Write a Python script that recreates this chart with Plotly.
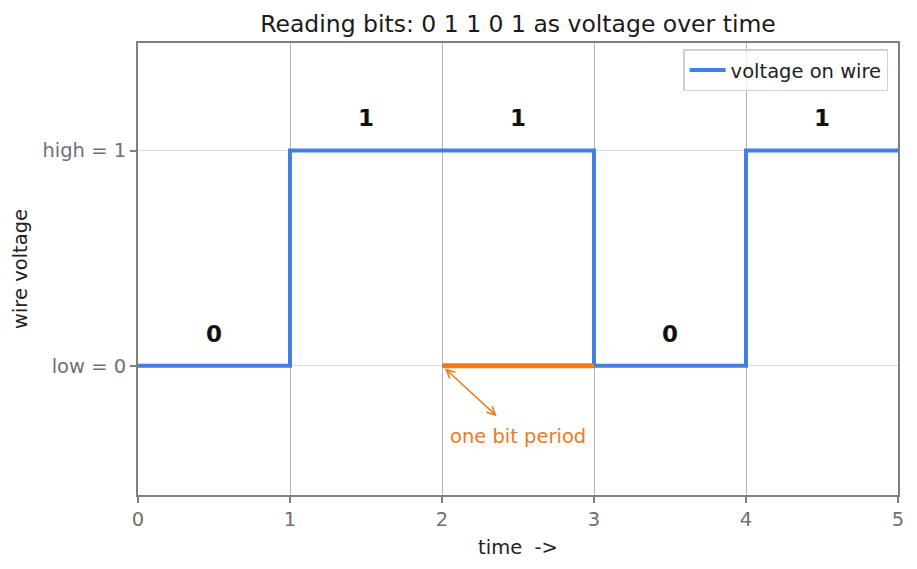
import plotly.graph_objects as go

# Data
bits = [0, 1, 1, 0, 1]
times = [0, 1, 2, 3, 4, 5]
levels = bits + [bits[-1]]
ytick_vals = [0, 1]
ytick_text = ["low = 0", "high = 1"]
xtick_vals = [0, 1, 2, 3, 4, 5]
period_x = [2, 3]
period_y = [0, 0]

BLUE = "#3f80e0"
ORANGE = "#f07a1e"
FONT = "DejaVu Sans"
FS = 19.5

fig = go.Figure()
fig.add_trace(go.Scatter(
    x=times, y=levels, mode="lines", line_shape="hv",
    line=dict(color=BLUE, width=4), name="voltage on wire",
))
fig.add_trace(go.Scatter(
    x=period_x, y=period_y, mode="lines",
    line=dict(color=ORANGE, width=5), showlegend=False, hoverinfo="skip",
))

for i, b in enumerate(bits):
    fig.add_annotation(
        x=i + 0.5, y=b + 0.15, xref="x", yref="y", text=f"<b>{b}</b>",
        showarrow=False, font=dict(family=FONT, size=23, color="#111111"),
    )

# double-headed arrow
fig.add_annotation(
    x=2.02, y=-0.012, ax=2.37, ay=-0.24, xref="x", yref="y", axref="x", ayref="y",
    text="", showarrow=True, arrowhead=5, startarrowhead=5, arrowside="end+start",
    arrowsize=1.1, startarrowsize=1.1, arrowwidth=1.5, arrowcolor=ORANGE,
)
fig.add_annotation(
    x=2.5, y=-0.33, xref="x", yref="y", text="one bit period", showarrow=False,
    font=dict(family=FONT, size=FS, color=ORANGE),
)

fig.update_layout(
    width=917, height=569,
    margin=dict(l=138, r=19, t=43, b=74),
    paper_bgcolor="white", plot_bgcolor="white",
    font=dict(family=FONT, size=FS, color="#222222"),
    title=dict(
        text="Reading bits: 0 1 1 0 1 as voltage over time",
        x=0.5, xref="paper", xanchor="center",
        y=1 - 24 / 569, yref="container", yanchor="middle",
        font=dict(family=FONT, size=23.5, color="#1a1a1a"),
    ),
    showlegend=True,
    legend=dict(
        x=0.987, y=0.986, xanchor="right", yanchor="top",
        bgcolor="rgba(255,255,255,0.8)", bordercolor="#d0d0d0", borderwidth=1.5,
        font=dict(family=FONT, size=FS, color="#222222"),
        itemwidth=36,
    ),
)

fig.update_xaxes(
    range=[0, 5], tickvals=xtick_vals, ticktext=[str(v) for v in xtick_vals],
    showgrid=True, gridcolor="#b3b3b3", gridwidth=1,
    showline=True, linecolor="#808080", linewidth=2, mirror=True,
    ticks="outside", ticklen=6, tickwidth=1.5, tickcolor="#808080",
    tickfont=dict(family=FONT, size=FS, color="#707070"),
    zeroline=False,
    title=dict(text="time \u00a0->", font=dict(family=FONT, size=FS, color="#222222"), standoff=10),
)
fig.update_yaxes(
    range=[-0.6, 1.5], tickvals=ytick_vals, ticktext=ytick_text,
    showgrid=True, gridcolor="#e0e0e0", gridwidth=1,
    showline=True, linecolor="#808080", linewidth=2, mirror=True,
    ticks="outside", ticklen=6, tickwidth=1.5, tickcolor="#808080",
    tickfont=dict(family=FONT, size=FS, color="#707070"),
    zeroline=False,
    title=dict(text="wire voltage", font=dict(family=FONT, size=FS, color="#222222"), standoff=10),
)

fig.write_html("out.html")
